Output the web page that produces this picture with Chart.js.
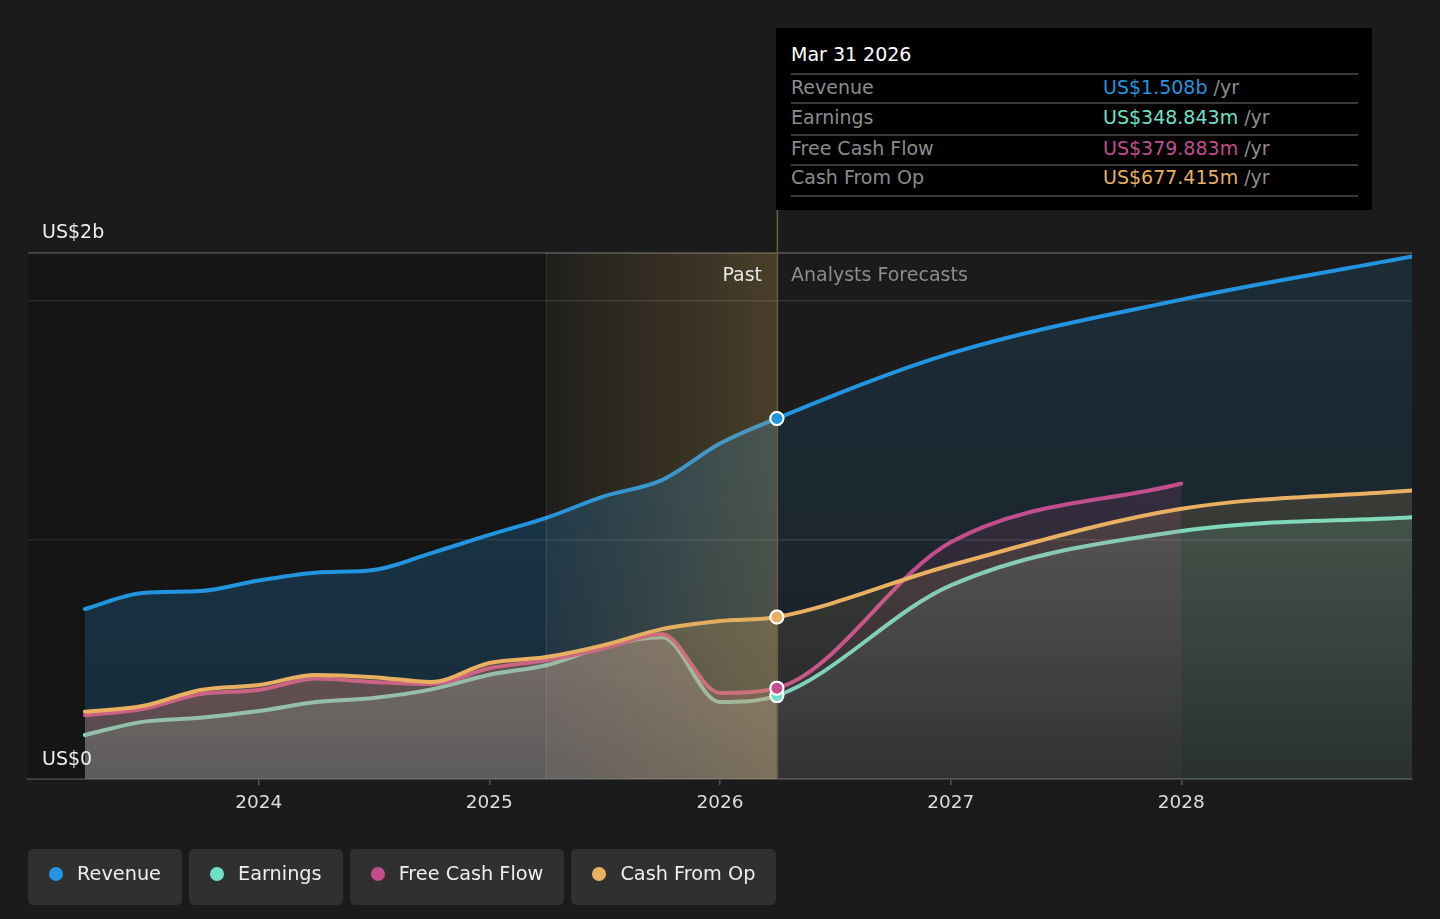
<!DOCTYPE html>
<html>
<head>
<meta charset="utf-8">
<script src="https://cdn.jsdelivr.net/npm/chart.js@4.4.1/dist/chart.umd.min.js"></script>
<style>
html,body{margin:0;padding:0;background:#1b1b1b;}
body{width:1440px;height:919px;position:relative;overflow:hidden;font-family:"DejaVu Sans",sans-serif;}
#wrap{position:absolute;left:0;top:0;width:1440px;height:919px;}
.lbl{position:absolute;font-size:19px;line-height:19px;white-space:nowrap;z-index:2;}
#tip{position:absolute;left:776px;top:28px;width:596px;height:182px;background:#000;z-index:3;}
#tip .t{position:absolute;left:15px;top:17px;font-size:19px;line-height:19px;color:#fff;white-space:nowrap;}
#tip .sep{position:absolute;left:15px;width:567px;height:2px;background:#3a3a3a;}
#tip .k{position:absolute;left:15px;font-size:19px;line-height:19px;color:#8c8c8c;white-space:nowrap;}
#tip .v{position:absolute;left:327px;font-size:19px;line-height:19px;white-space:nowrap;}
#tip .v span{color:#8c8c8c;}
#legend{position:absolute;left:28px;top:849px;display:flex;gap:7px;z-index:2;}
#legend .it{height:56px;box-sizing:border-box;padding:0 21px 7px 21px;background:#303030;border-radius:5px;display:flex;align-items:center;font-size:19.3px;color:#eee;white-space:nowrap;}
#legend .dot{width:14px;height:14px;border-radius:50%;margin-right:14px;}
</style>
</head>
<body>
<div id="wrap"><canvas id="c"></canvas></div>
<div class="lbl" style="left:42px;top:222px;color:#eee;">US$2b</div>
<div class="lbl" style="left:42px;top:749px;color:#eee;">US$0</div>
<div class="lbl" style="right:678px;top:265px;color:#e6e6e6;">Past</div>
<div class="lbl" style="left:791px;top:265px;color:#8c8c8c;">Analysts Forecasts</div>
<div id="tip"></div>
<div id="legend"></div>
<script>
// ---------- DATA ----------
const pastDates = ['2023-03-31','2023-06-30','2023-09-30','2023-12-31','2024-03-31','2024-06-30','2024-09-30','2024-12-31','2025-03-31','2025-06-30','2025-09-30','2025-12-31','2026-03-31'];
const forecastDates = ['2026-12-31','2027-12-31','2028-12-31'];

const revenuePast = [0.711, 0.778, 0.786, 0.830, 0.863, 0.874, 0.945, 1.021, 1.092, 1.182, 1.250, 1.403, 1.508];
const revenueForecast = [1.780, 2.005, 2.185];

const earningsPast = [0.184, 0.239, 0.256, 0.284, 0.322, 0.339, 0.375, 0.436, 0.476, 0.553, 0.593, 0.322, 0.348843];
const earningsForecast = [0.810, 1.037, 1.095];

const fcfPast = [0.267, 0.293, 0.355, 0.372, 0.420, 0.406, 0.397, 0.463, 0.497, 0.547, 0.605, 0.360, 0.379883];
const fcfForecast = [0.990, 1.236];

const cfoPast = [0.281, 0.305, 0.372, 0.393, 0.435, 0.426, 0.406, 0.485, 0.510, 0.560, 0.627, 0.661, 0.677415];
const cfoForecast = [0.894, 1.130, 1.207];

const tickYears = [2024, 2025, 2026, 2027, 2028];
const seriesNames = ['Revenue', 'Earnings', 'Free Cash Flow', 'Cash From Op'];
const seriesColors = ['#2394df', '#6fe0c8', '#c24e8e', '#e9b062'];
const seriesRGB = ['35,148,223', '111,224,200', '194,78,142', '233,176,98'];
const tooltipDate = 'Mar 31 2026';
const highlightStart = '2025-03-31';
const nowDate = '2026-03-31';

// ---------- HELPERS ----------
function decYear(s) {
  const [y, m, d] = s.split('-').map(Number);
  const start = Date.UTC(y, 0, 1);
  const days = (Date.UTC(y + 1, 0, 1) - start) / 86400000;
  const doy = (Date.UTC(y, m - 1, d) - start) / 86400000 + 1;
  return y + doy / days;
}
function build(past, fc) {
  return past.map((v, i) => ({x: decYear(pastDates[i]), y: v}))
    .concat(fc.map((v, i) => ({x: decYear(forecastDates[i]), y: v})));
}
const nowX = decYear(nowDate);
const hiX = decYear(highlightStart);
const markIndex = pastDates.length - 1;

const allSeries = [
  build(revenuePast, revenueForecast),
  build(earningsPast, earningsForecast),
  build(fcfPast, fcfForecast),
  build(cfoPast, cfoForecast)
];

const fillCache = {};
function areaFill(idx) {
  return function (context) {
    const chart = context.chart;
    const ca = chart.chartArea;
    if (!ca || !chart.scales.y) return 'rgba(0,0,0,0)';
    const key = idx + '_' + [ca.left, ca.top, ca.right, ca.bottom, chart.width, chart.height].join('_');
    if (fillCache[key]) return fillCache[key];
    const ys = chart.scales.y, xs = chart.scales.x;
    const vals = allSeries[idx].map(p => p.y);
    const topPx = ys.getPixelForValue(Math.max(...vals));
    const basePx = ys.getPixelForValue(0);
    const splitPx = xs.getPixelForValue(nowX);
    const off = document.createElement('canvas');
    off.width = chart.width; off.height = chart.height;
    const o = off.getContext('2d');
    const rgb = seriesRGB[idx];
    const mk = (aT, aB) => {
      const g = o.createLinearGradient(0, topPx, 0, basePx);
      g.addColorStop(0, `rgba(${rgb},${aT})`);
      g.addColorStop(1, `rgba(${rgb},${aB})`);
      return g;
    };
    o.fillStyle = mk(0.31, 0.17);
    o.fillRect(0, 0, splitPx, chart.height);
    o.fillStyle = mk(0.15, 0.05);
    o.fillRect(splitPx, 0, chart.width - splitPx, chart.height);
    const pat = chart.ctx.createPattern(off, 'no-repeat');
    fillCache[key] = pat;
    return pat;
  };
}

function makeDataset(idx) {
  return {
    label: seriesNames[idx],
    data: allSeries[idx],
    borderColor: seriesColors[idx],
    backgroundColor: areaFill(idx),
    borderWidth: 4,
    borderCapStyle: 'round',
    fill: 'origin',
    cubicInterpolationMode: 'monotone',
    pointRadius: c => c.dataIndex === markIndex ? 6.5 : 0,
    pointHoverRadius: c => c.dataIndex === markIndex ? 6.5 : 0,
    pointBackgroundColor: seriesColors[idx],
    pointBorderColor: '#ffffff',
    pointBorderWidth: 2
  };
}

// ---------- PLUGINS ----------
const markerOrder = ['Revenue', 'Earnings', 'Cash From Op', 'Free Cash Flow'];
const bgPlugin = {
  id: 'bgRegions',
  beforeDatasetsDraw(chart) {
    const {ctx, chartArea: ca, scales: {x}} = chart;
    const hx = x.getPixelForValue(hiX);
    ctx.save();
    ctx.fillStyle = 'rgba(0,0,0,0.2)';
    ctx.fillRect(ca.left, ca.top, hx - ca.left, ca.bottom - ca.top);
    ctx.restore();
  },
  afterDatasetsDraw(chart) {
    const {ctx, chartArea: ca, scales: {x}} = chart;
    const hx = x.getPixelForValue(hiX);
    const nx = x.getPixelForValue(nowX);
    ctx.save();
    const g = ctx.createLinearGradient(hx, 0, nx, 0);
    g.addColorStop(0, 'rgba(205,165,85,0.03)');
    g.addColorStop(1, 'rgba(205,165,85,0.26)');
    ctx.fillStyle = g;
    ctx.fillRect(hx, ca.top, nx - hx, ca.bottom - ca.top);
    ctx.strokeStyle = 'rgba(255,255,255,0.12)';
    ctx.lineWidth = 1;
    ctx.beginPath(); ctx.moveTo(hx, ca.top); ctx.lineTo(hx, ca.bottom); ctx.stroke();
    ctx.strokeStyle = '#6e5d40';
    ctx.lineWidth = 1.5;
    ctx.beginPath(); ctx.moveTo(nx + 0.5, 210); ctx.lineTo(nx + 0.5, ca.bottom); ctx.stroke();
    ctx.restore();
    markerOrder.forEach(name => {
      const di = chart.data.datasets.findIndex(d => d.label === name);
      const pt = chart.getDatasetMeta(di).data[markIndex];
      if (pt) pt.draw(ctx, ca);
    });
  }
};

Chart.defaults.font.family = '"DejaVu Sans", sans-serif';

const datasets = [makeDataset(3), makeDataset(2), makeDataset(1), makeDataset(0)];

new Chart(document.getElementById('c'), {
  type: 'line',
  data: {datasets},
  options: {
    responsive: true,
    maintainAspectRatio: false,
    animation: false,
    events: [],
    layout: {padding: {left: 28, right: 28, top: 253, bottom: 100}},
    plugins: {
      legend: {display: false},
      tooltip: {enabled: false}
    },
    scales: {
      x: {
        type: 'linear',
        min: 2023,
        max: 2029,
        afterBuildTicks: s => { s.ticks = tickYears.map(v => ({value: v})); },
        afterFit: s => { s.height = 40; },
        grid: {drawOnChartArea: false, drawTicks: true, tickLength: 6, color: '#555', lineWidth: 1.5},
        border: {display: true, color: '#444', width: 2},
        ticks: {color: '#dcdcdc', font: {size: 18.5}, padding: 7, maxRotation: 0, autoSkip: false, callback: v => String(v)}
      },
      y: {
        type: 'linear',
        min: 0,
        max: 2.2,
        afterFit: s => { s.width = 0; },
        ticks: {display: false, stepSize: 1},
        border: {display: false},
        grid: {
          drawTicks: false,
          color: c => c.tick.value === 0 ? 'rgba(0,0,0,0)' : (c.tick.value > 2.1 ? '#4a4a4a' : '#353535'),
          lineWidth: c => c.tick.value > 2.1 ? 2 : 1.5
        }
      }
    }
  },
  plugins: [bgPlugin]
});

// ---------- TOOLTIP (HTML) ----------
const tip = document.getElementById('tip');
const fmt = (i, v) => i === 0 ? `US$${v.toFixed(3)}b` : `US$${(v * 1000).toFixed(3)}m`;
let html = `<div class="t">${tooltipDate}</div>`;
const sepTops = [44.7, 74.3, 106, 135.7, 167.3];
const rowTops = [49.5, 79.5, 110.5, 140];
sepTops.forEach(t => { html += `<div class="sep" style="top:${t}px"></div>`; });
seriesNames.forEach((n, i) => {
  const v = allSeries[i][markIndex].y;
  html += `<div class="k" style="top:${rowTops[i]}px">${n}</div>`;
  html += `<div class="v" style="top:${rowTops[i]}px;color:${seriesColors[i]}">${fmt(i, v)} <span>/yr</span></div>`;
});
tip.innerHTML = html;

// ---------- LEGEND (HTML) ----------
const lg = document.getElementById('legend');
lg.innerHTML = seriesNames.map((n, i) =>
  `<div class="it"><div class="dot" style="background:${seriesColors[i]}"></div>${n}</div>`).join('');
</script>
</body>
</html>
